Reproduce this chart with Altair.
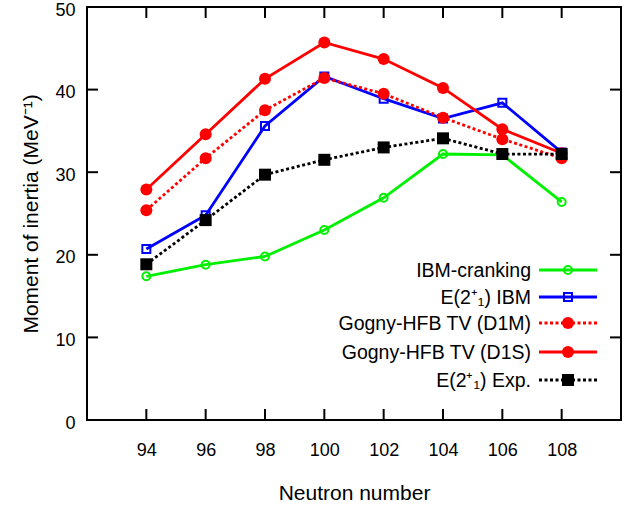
import altair as alt
import pandas as pd

neutrons = [94, 96, 98, 100, 102, 104, 106, 108]
ibm_cranking = [17.4, 18.8, 19.8, 23.0, 26.9, 32.2, 32.1, 26.4]
e2_ibm = [20.7, 24.8, 35.6, 41.6, 38.9, 36.5, 38.4, 32.4]
gogny_d1m = [25.4, 31.7, 37.5, 41.4, 39.5, 36.6, 34.0, 31.7]
gogny_d1s = [27.9, 34.6, 41.3, 45.7, 43.7, 40.2, 35.2, 32.3]
e2_exp = [18.85, 24.2, 29.7, 31.5, 33.0, 34.1, 32.2, 32.2]

series_names = [
    "IBM-cranking",
    "E(2\u207a\u2081) IBM",
    "Gogny-HFB TV (D1M)",
    "Gogny-HFB TV (D1S)",
    "E(2\u207a\u2081) Exp.",
]
series_values = [ibm_cranking, e2_ibm, gogny_d1m, gogny_d1s, e2_exp]
x_ticks = [94, 96, 98, 100, 102, 104, 106, 108]
y_ticks = [0, 10, 20, 30, 40, 50]

# styles: color, dash, shape, filled, size
styles = [
    ("#00f000", None, "circle", False, 64),
    ("#0000ff", None, "square", False, 64),
    ("#ff0000", [3, 2.5], "circle", True, 144),
    ("#ff0000", None, "circle", True, 144),
    ("#000000", [3, 2.5], "square", True, 144),
]

W, H = 534, 413
FONT = "Liberation Sans"

xscale = alt.Scale(domain=[92, 110], nice=False, zero=False)
yscale = alt.Scale(domain=[0, 50], nice=False)

x_axis = alt.Axis(values=x_ticks, format="d", domain=False, ticks=False, tickSize=0,
                  grid=False, labelFontSize=18, labelFont=FONT, labelColor="black",
                  labelPadding=21, title="Neutron number", titleFont=FONT,
                  titleFontSize=21, titleFontWeight="normal", titleColor="black",
                  titleX=W / 2, titleY=79, titleBaseline="alphabetic")
y_axis = alt.Axis(values=y_ticks, format="d", domain=False, ticks=False, tickSize=0,
                  grid=False, labelFontSize=18, labelFont=FONT, labelColor="black",
                  labelPadding=12, labelOffset=3,
                  title="Moment of inertia (MeV\u207b\u00b9)",
                  titleFont=FONT, titleFontSize=21, titleFontWeight="normal",
                  titleColor="black", titleAngle=270, titleX=-50, titleY=H / 2,
                  titleBaseline="alphabetic", titleAlign="center")


def X(field):
    return alt.X(field, scale=xscale, axis=x_axis)


def Y(field):
    return alt.Y(field, scale=yscale, axis=y_axis)


layers = []
for name, vals, (color, dash, shape, filled, size) in zip(series_names, series_values, styles):
    df = pd.DataFrame({"N": neutrons, "J": vals, "series": name})
    line_kw = dict(color=color, strokeWidth=2.8)
    if dash:
        line_kw["strokeDash"] = dash
    layers.append(alt.Chart(df).mark_line(**line_kw).encode(x=X("N:Q"), y=Y("J:Q")))
    if filled:
        pm = alt.Chart(df).mark_point(shape=shape, filled=True, size=size, color=color,
                                      opacity=1, strokeWidth=0)
    else:
        pm = alt.Chart(df).mark_point(shape=shape, filled=False, size=size, color=color,
                                      opacity=1, strokeWidth=2)
    layers.append(pm.encode(x=X("N:Q"), y=Y("J:Q")))

# inward tick marks on all four sides
xt = pd.DataFrame({"N": x_ticks})
yt = pd.DataFrame({"J": [v for v in y_ticks if 0 < v < 50]})
tick_kw = dict(color="black", strokeWidth=2)
layers.append(alt.Chart(xt).mark_rule(**tick_kw).encode(
    x=X("N:Q"), y=alt.value(0), y2=alt.value(11)))
layers.append(alt.Chart(xt).mark_rule(**tick_kw).encode(
    x=X("N:Q"), y=alt.value(H - 11), y2=alt.value(H)))
layers.append(alt.Chart(yt).mark_rule(**tick_kw).encode(
    y=Y("J:Q"), x=alt.value(0), x2=alt.value(11)))
layers.append(alt.Chart(yt).mark_rule(**tick_kw).encode(
    y=Y("J:Q"), x=alt.value(W - 11), x2=alt.value(W)))

main = alt.layer(*layers)

# custom legend (label left of sample, as in the original)
lscale = alt.Scale(domain=[0, 1, 2, 3, 4], range=[263, 290, 316, 345, 373])
leg_layers = []
for i, (name, (color, dash, shape, filled, size)) in enumerate(zip(series_names, styles)):
    ldf = pd.DataFrame({"row": [i], "label": [name]})
    ly = alt.Y("row:Q", scale=lscale, axis=None)
    rk = dict(color=color, strokeWidth=2.8)
    if dash:
        rk["strokeDash"] = dash
    leg_layers.append(alt.Chart(ldf).mark_rule(**rk).encode(
        y=ly, x=alt.value(452), x2=alt.value(510)))
    if filled:
        pm = alt.Chart(ldf).mark_point(shape=shape, filled=True, size=size, color=color,
                                       opacity=1, strokeWidth=0)
    else:
        pm = alt.Chart(ldf).mark_point(shape=shape, filled=False, size=size, color=color,
                                       opacity=1, strokeWidth=2)
    leg_layers.append(pm.encode(y=ly, x=alt.value(481)))
    leg_layers.append(alt.Chart(ldf).mark_text(
        align="right", baseline="middle", font=FONT, fontSize=19.5, color="black", dy=1
    ).encode(y=ly, x=alt.value(444), text="label:N"))

legend = alt.layer(*leg_layers)

chart = alt.layer(main, legend).resolve_scale(y="independent").properties(
    width=W, height=H,
    background="white",
    autosize=alt.AutoSizeParams(type="none"),
    padding={"left": 87, "top": 7, "right": 23, "bottom": 86},
).configure_view(stroke="black", strokeWidth=2)

chart.save("out.html", embed_options={"renderer": "svg", "actions": False})
